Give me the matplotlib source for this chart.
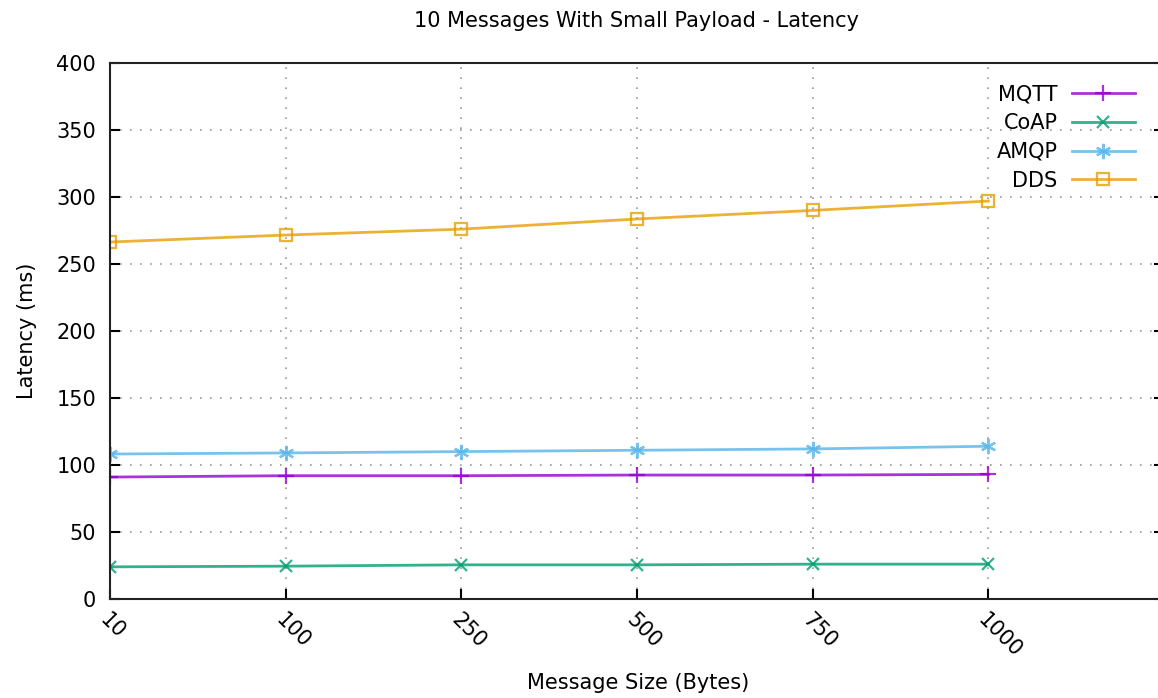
import matplotlib
matplotlib.use("Agg")
import matplotlib.pyplot as plt

# data
tamanhos = ["10", "100", "250", "500", "750", "1000"]
mqtt = [91, 92, 92, 92.5, 92.5, 93]
coap = [24, 24.5, 25.5, 25.5, 26, 26]
amqp = [108.2, 109, 110, 111, 112, 114]
dds = [266.4, 271.6, 276, 283.6, 290, 297]

series = [
    ("MQTT", mqtt, "#9400d3", "+", 11, "none"),
    ("CoAP", coap, "#009e73", "x", 9, "none"),
    ("AMQP", amqp, "#56b4e9", (6, 2, 0), 11, "none"),
    ("DDS", dds, "#e69f00", "s", 9, "none"),
]

plt.rcParams['font.family'] = ['DejaVu Sans']
fig = plt.figure(figsize=(11.58, 6.98), dpi=100)
ax = fig.add_axes([110 / 1158, 1 - 599 / 698, 1054 / 1158, 536 / 698])

x = list(range(len(tamanhos)))
for nome, vals, cor, marc, ms, face in series:
    ax.plot(x, vals, color=cor, linewidth=2, alpha=0.8, marker=marc,
            markersize=ms, markerfacecolor=face, markeredgecolor=cor,
            markeredgewidth=1.6, label=nome)

ax.set_xlim(0, 6)
ax.set_ylim(0, 400)
ax.set_xticks(x)
ax.set_xticklabels(tamanhos, rotation=-45, ha='left', va='top',
                   rotation_mode='anchor', fontsize=15)
ax.set_yticks(range(0, 401, 50))
ax.tick_params(axis='y', labelsize=15, direction='in', length=7, width=1.5,
               right=True, pad=10)
ax.tick_params(axis='x', direction='in', length=7, width=1.5, pad=8)
ax.grid(True, linestyle=(0, (1, 5)), color='#999999', linewidth=1.2)
for s in ax.spines.values():
    s.set_linewidth(1.5)
    s.set_color('#222222')

ax.set_title("10 Messages With Small Payload - Latency", fontsize=15, pad=26)
fig.text(638 / 1158, 1 - 683 / 698, "Message Size (Bytes)", fontsize=15,
         ha='center', va='center')
ax.set_ylabel("Latency (ms)", fontsize=15, labelpad=14)

ax.legend(loc='upper right', bbox_to_anchor=(0.99, 0.995), frameon=False,
          markerfirst=False, fontsize=15, handlelength=3.0,
          labelspacing=0.42, handletextpad=0.7)

fig.savefig("out.png", dpi=100)
